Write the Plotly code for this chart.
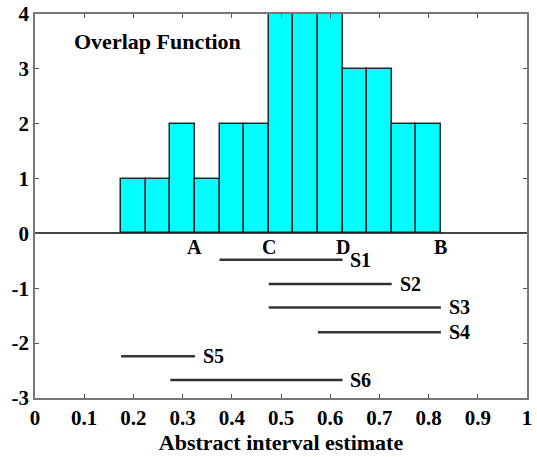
import plotly.graph_objects as go

# Histogram (overlap function)
bin_centers = [0.20, 0.25, 0.30, 0.35, 0.40, 0.45, 0.50, 0.55, 0.60, 0.65, 0.70, 0.75, 0.80]
overlap_counts = [1, 1, 2, 1, 2, 2, 4, 4, 4, 3, 3, 2, 2]
bin_width = 0.05

# Interval estimates
interval_names = ["S1", "S2", "S3", "S4", "S5", "S6"]
interval_start = [0.375, 0.475, 0.475, 0.575, 0.175, 0.275]
interval_end = [0.625, 0.725, 0.825, 0.825, 0.325, 0.625]
interval_level = [-0.48, -0.92, -1.35, -1.80, -2.24, -2.67]

# Point markers
point_names = ["A", "C", "D", "B"]
point_x = [0.325, 0.475, 0.625, 0.825]
point_y = [-0.25, -0.25, -0.25, -0.25]

# Tick labels
x_tickvals = [0, 0.1, 0.2, 0.3, 0.4, 0.5, 0.6, 0.7, 0.8, 0.9, 1]
x_ticktext = ["0", "0.1", "0.2", "0.3", "0.4", "0.5", "0.6", "0.7", "0.8", "0.9", "1"]
y_tickvals = [-3, -2, -1, 0, 1, 2, 3, 4]
y_ticktext = ["-3", "-2", "-1", "0", "1", "2", "3", "4"]

FONT = "Liberation Serif"

fig = go.Figure()
fig.add_trace(go.Bar(
    x=bin_centers, y=overlap_counts, width=bin_width,
    marker=dict(color="#00FFFF", line=dict(color="#1a2a2a", width=1.5)),
    showlegend=False, hoverinfo="skip",
))

for name, x0, x1, lvl in zip(interval_names, interval_start, interval_end, interval_level):
    fig.add_trace(go.Scatter(
        x=[x0, x1], y=[lvl, lvl], mode="lines",
        line=dict(color="#333333", width=2.5), showlegend=False,
    ))
    fig.add_annotation(
        x=x1 + 0.012, y=lvl, text=name, showarrow=False, xanchor="left", yanchor="middle",
        font=dict(family=FONT, size=20, color="black", weight="bold"),
    )

for name, px, py in zip(point_names, point_x, point_y):
    fig.add_annotation(
        x=px, y=py, text=name, showarrow=False, xanchor="center", yanchor="middle",
        font=dict(family=FONT, size=20, color="black", weight="bold"),
    )

fig.add_annotation(
    x=0.075, y=3.5, text="Overlap Function", showarrow=False, xanchor="left", yanchor="middle",
    font=dict(family=FONT, size=22, color="black", weight="bold"),
)

axis_common = dict(
    showgrid=False, ticks="inside", ticklen=4, tickcolor="#555555",
    showline=True, linecolor="#777777", linewidth=1.5, mirror="ticks",
    tickfont=dict(family=FONT, size=21, color="black", weight="bold"),
    automargin=False,
)

fig.update_xaxes(
    range=[0, 1], tickvals=x_tickvals, ticktext=x_ticktext, zeroline=False,
    title=dict(text="Abstract interval estimate", standoff=4,
               font=dict(family=FONT, size=22, color="black", weight="bold")),
    **axis_common,
)
fig.update_yaxes(
    range=[-3, 4], tickvals=y_tickvals, ticktext=y_ticktext,
    zeroline=True, zerolinecolor="#444444", zerolinewidth=1.5,
    **axis_common,
)

fig.update_layout(
    width=537, height=457,
    margin=dict(l=35, r=10, t=14, b=59),
    plot_bgcolor="white", paper_bgcolor="white",
    bargap=0,
)

fig.write_html(
    "out.html",
    config={"displayModeBar": False},
    post_script="document.body.style.margin='0px'; document.body.style.overflow='hidden';",
)
